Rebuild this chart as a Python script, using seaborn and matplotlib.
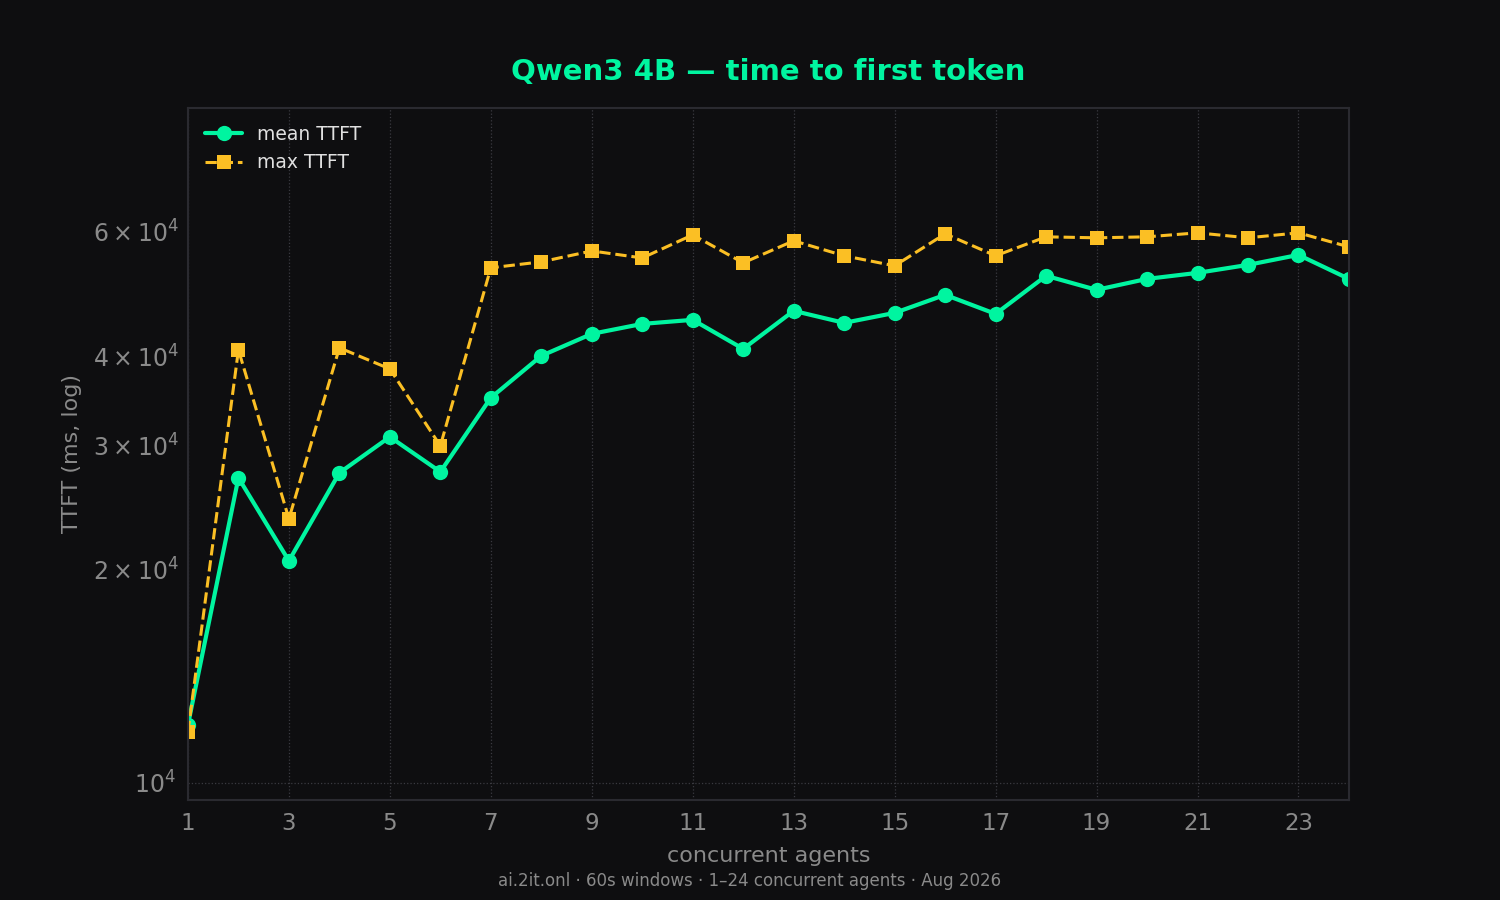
import matplotlib
matplotlib.use("Agg")
import matplotlib.pyplot as plt
import seaborn as sns
import pandas as pd

# data
agents = list(range(1, 25))
mean_ttft = [12080, 26970, 20590, 27410, 30810, 27500, 34990, 40100, 43070, 44490,
             45080, 41020, 46420, 44640, 46110, 48900, 45960, 52020, 49700, 51500,
             52520, 53900, 55680, 51500]
max_ttft = [11800, 40890, 23600, 41160, 38430, 29920, 53390, 54440, 56400, 55130,
            59430, 54260, 58290, 55520, 53740, 59630, 55520, 59050, 58860, 59050,
            59820, 58860, 59820, 57150]
x_ticks = list(range(1, 25, 2))

BG = "#0e0e10"
GREEN = "#00f5a0"
ORANGE = "#fbbf24"
GREY = "#8a8a8a"
SPINE = "#2a2a30"

sns.set_style("dark")
plt.rcParams["font.family"] = ["DejaVu Sans"]

df = pd.DataFrame({"agents": agents, "mean TTFT": mean_ttft, "max TTFT": max_ttft})

fig = plt.figure(figsize=(15, 9), dpi=100, facecolor=BG)
ax = fig.add_axes([0.1253, 0.1111, 0.774, 0.769])
ax.set_facecolor(BG)

sns.lineplot(data=df, x="agents", y="mean TTFT", ax=ax, color=GREEN, lw=3,
             marker="o", markersize=11, markeredgewidth=0, label="mean TTFT")
sns.lineplot(data=df, x="agents", y="max TTFT", ax=ax, color=ORANGE, lw=2.2,
             ls="--", marker="s", markersize=10.5, markeredgewidth=0, label="max TTFT")

ax.set_yscale("log")
ax.set_xlim(1, 24)
ax.set_ylim(9460, 89800)
ax.set_xticks(x_ticks)

ax.grid(True, which="major", color="#3a3a40", ls=":", lw=0.9)
ax.grid(False, which="minor")
for s in ax.spines.values():
    s.set_visible(True)
    s.set_color(SPINE)
    s.set_linewidth(1.5)

ax.tick_params(axis="both", which="both", colors=GREY, labelsize=16.5, length=5, width=1.2)
ax.tick_params(axis="y", which="both", labelsize=17)
ax.tick_params(axis="y", which="minor", length=3)
for lbl in ax.get_xticklabels() + ax.get_yticklabels(minor=True) + ax.get_yticklabels():
    lbl.set_color(GREY)

ax.set_xlabel("concurrent agents", color=GREY, fontsize=16, labelpad=8)
ax.set_ylabel("TTFT (ms, log)", color=GREY, fontsize=16, labelpad=8)

leg = ax.legend(loc="upper left", frameon=False, fontsize=13.5, handlelength=2.0)
for t in leg.get_texts():
    t.set_color("#e0e0e0")

ax.set_title("Qwen3 4B — time to first token", color=GREEN, fontsize=21,
             fontweight="bold", pad=20)
fig.text(0.5, 0.021, "ai.2it.onl · 60s windows · 1–24 concurrent agents · Aug 2026",
         ha="center", va="center", color=GREY, fontsize=12)

fig.savefig("out.png", dpi=100, facecolor=BG)
